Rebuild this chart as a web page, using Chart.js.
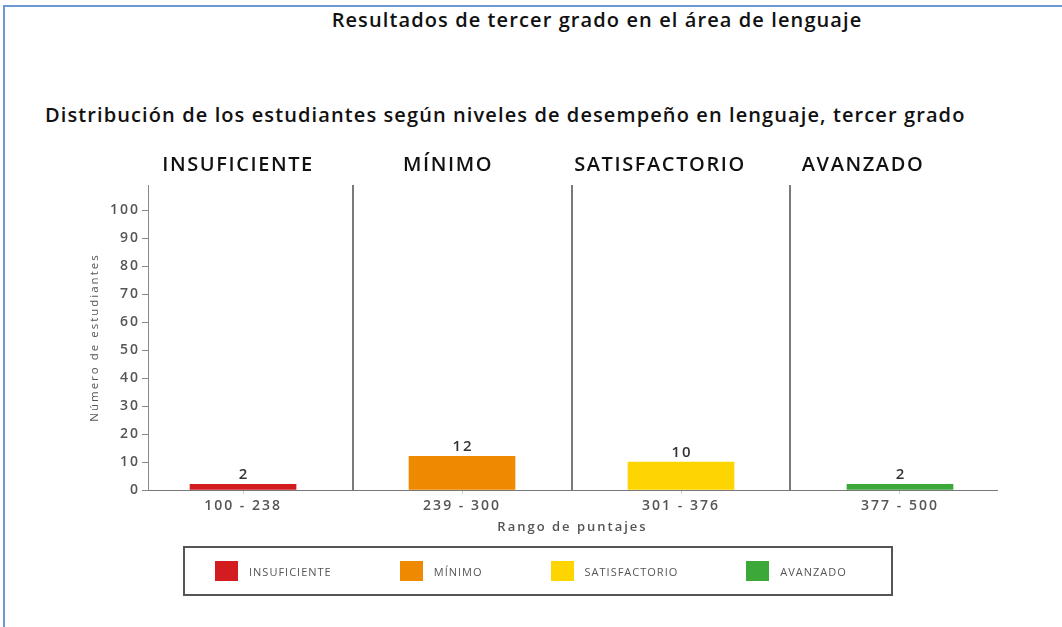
<!DOCTYPE html>
<html>
<head>
<meta charset="utf-8">
<script src="https://cdn.jsdelivr.net/npm/chart.js@4"></script>
<style>
  html, body { margin: 0; padding: 0; background: #fff; }
  body { width: 1062px; height: 627px; position: relative; overflow: hidden; font-family: "Open Sans", sans-serif; }
  .frame { position: absolute; left: 3px; top: 5px; right: -10px; bottom: -10px; border-left: 2px solid #6b9ad2; border-top: 2px solid #6b9ad2; }
  .title { position: absolute; left: 597px; top: 6px; transform: translateX(-50%); white-space: nowrap; font-weight: 600; font-size: 20px; letter-spacing: 1.1px; color: #111; }
  .subtitle { position: absolute; left: 45px; top: 101px; white-space: nowrap; font-weight: 600; font-size: 20px; letter-spacing: 1.1px; color: #111; }
  .level { position: absolute; top: 150px; transform: translateX(-50%); white-space: nowrap; font-weight: 600; font-size: 20px; letter-spacing: 1.6px; color: #111; }
  #wrap { position: absolute; left: 0; top: 0; width: 1062px; height: 627px; }
  .legend { position: absolute; left: 183px; top: 546px; width: 710px; height: 50px; border: 2px solid #555; display: flex; align-items: center; padding-left: 30px; box-sizing: border-box; }
  .item { display: flex; align-items: center; margin-right: 68px; font-size: 11px; letter-spacing: 1px; color: #555; }
  .sw { width: 23px; height: 20px; margin-right: 11px; }
</style>
</head>
<body>
<div class="frame"></div>
<div class="title">Resultados de tercer grado en el área de lenguaje</div>
<div class="subtitle">Distribución de los estudiantes según niveles de desempeño en lenguaje, tercer grado</div>
<div id="wrap"><canvas id="chart"></canvas></div>
<div id="levels"></div>
<div class="legend" id="legend"></div>
<script>
const levels = ["INSUFICIENTE", "MÍNIMO", "SATISFACTORIO", "AVANZADO"];
const ranges = ["100 - 238", "239 - 300", "301 - 376", "377 - 500"];
const students = [2, 12, 10, 2];
const colors = ["#d31c1f", "#ef8900", "#fed500", "#3ca83a"];
const yTicks = [0, 10, 20, 30, 40, 50, 60, 70, 80, 90, 100];

// header positions (px centres) of the level names above the plot
const levelX = [238, 448, 660, 863];

levels.forEach((name, i) => {
  const d = document.createElement("div");
  d.className = "level";
  d.style.left = levelX[i] + "px";
  d.textContent = name;
  document.getElementById("levels").appendChild(d);

  const item = document.createElement("div");
  item.className = "item";
  item.innerHTML = '<span class="sw" style="background:' + colors[i] + '"></span>' + name;
  document.getElementById("legend").appendChild(item);
});

// the reference text is spaced out, canvas letterSpacing gets close to it
const spacing = {
  id: "spacing",
  beforeInit(chart) { chart.ctx.letterSpacing = "2px"; },
  beforeDraw(chart) { chart.ctx.letterSpacing = "2px"; },
};

const dividers = {
  id: "dividers",
  afterDatasetsDraw(chart) {
    const { ctx, chartArea, scales } = chart;
    ctx.save();
    ctx.strokeStyle = "#7a7a7a";
    ctx.lineWidth = 2;
    for (let i = 0; i < levels.length - 1; i++) {
      const x = Math.round(scales.x.getPixelForValue(i + 0.5));
      ctx.beginPath();
      ctx.moveTo(x, chartArea.top);
      ctx.lineTo(x, chartArea.bottom);
      ctx.stroke();
    }
    ctx.restore();
  },
};

const barLabels = {
  id: "barLabels",
  afterDatasetsDraw(chart) {
    const { ctx } = chart;
    ctx.save();
    ctx.font = "600 15px 'Open Sans'";
    ctx.letterSpacing = "2px";
    ctx.fillStyle = "#333";
    ctx.textAlign = "center";
    ctx.textBaseline = "bottom";
    chart.getDatasetMeta(0).data.forEach((bar, i) => {
      ctx.fillText(students[i], bar.x + 1, bar.y - 2);
    });
    ctx.restore();
  },
};

new Chart(document.getElementById("chart"), {
  type: "bar",
  data: {
    datasets: [
      {
        data: students.map((v, i) => ({ x: i, y: v })),
        backgroundColor: colors,
        borderWidth: 0,
        barThickness: 106,
      },
    ],
  },
  options: {
    responsive: true,
    maintainAspectRatio: false,
    animation: false,
    layout: { padding: { top: 185, left: 88, right: 65, bottom: 92 } },
    plugins: { legend: { display: false }, tooltip: { enabled: false } },
    scales: {
      x: {
        type: "linear",
        offset: false,
        min: -0.434,
        max: 3.443,
        afterBuildTicks: (scale) => {
          scale.ticks = ranges.map((r, i) => ({ value: i }));
        },
        afterFit: (scale) => { scale.height = 45; },
        border: { display: true, color: "#777", width: 1 },
        grid: { display: true, offset: false, drawOnChartArea: false, tickLength: 4, color: "#ccc" },
        ticks: {
          padding: 4,
          color: "#555",
          font: { family: "Open Sans", size: 14, weight: "600" },
          callback: (v) => ranges[v] ?? "",
        },
        title: {
          display: true,
          text: "Rango de puntajes",
          color: "#555",
          font: { family: "Open Sans", size: 13, weight: "600" },
          padding: { top: 1, bottom: 0 },
        },
      },
      y: {
        min: 0,
        max: 109,
        afterBuildTicks: (scale) => {
          scale.ticks = yTicks.map((v) => ({ value: v }));
        },
        afterFit: (scale) => { scale.width = 60; },
        border: { display: true, color: "#888", width: 1 },
        grid: { display: true, drawOnChartArea: false, tickLength: 6, color: "#888" },
        ticks: {
          padding: 2,
          color: "#555",
          font: { family: "Open Sans", size: 14, weight: "600" },
        },
        title: {
          display: true,
          text: "Número de estudiantes",
          color: "#555",
          font: { family: "Open Sans", size: 11.5 },
          padding: 0,
        },
      },
    },
  },
  plugins: [spacing, dividers, barLabels],
});
</script>
</body>
</html>
